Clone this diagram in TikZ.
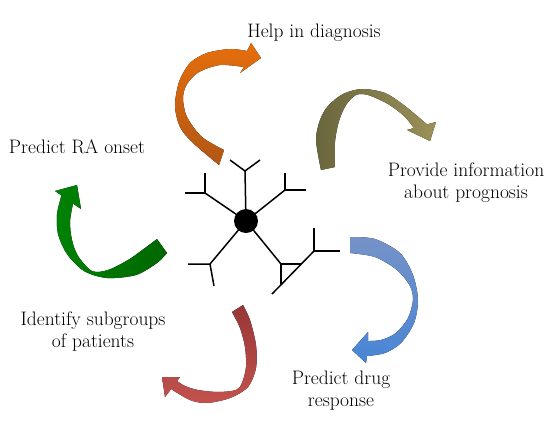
\documentclass[tikz,border=0pt]{standalone}
\begin{document}
\begin{tikzpicture}[x=1pt,y=-1pt,
  lbl/.style={font=\fontsize{19.5}{22}\selectfont, align=center, inner sep=0pt, text=black},
  arm/.style={line width=1.5pt, line cap=butt, line join=miter},
  core/.style={circle, fill=black, minimum size=24pt, inner sep=0pt}
]
\useasboundingbox (0,0) rectangle (557,421);
\definecolor{orA}{RGB}{229,110,12}
\definecolor{orB}{RGB}{178,86,20}
\definecolor{olA}{RGB}{106,102,60}
\definecolor{olB}{RGB}{155,145,88}
\definecolor{blA}{RGB}{118,146,200}
\definecolor{blB}{RGB}{72,134,214}
\definecolor{rdA}{RGB}{150,55,55}
\definecolor{rdB}{RGB}{196,82,78}
\definecolor{grA}{RGB}{0,130,5}
\definecolor{grB}{RGB}{0,102,0}

% labels
\node[lbl] (diag) at (314,33) {Help in diagnosis};
\node[lbl] (onset) at (77,147) {Predict RA onset};
\node[lbl] (prog) at (466,183) {Provide information\\about prognosis};
\node[lbl] (sub) at (93,332) {Identify subgroups\\of patients};
\node[lbl] (drug) at (341,391) {Predict drug\\response};

% orange arrow
\fill[top color=orA, bottom color=orB]
  (219,165) -- plot[smooth] coordinates {(219,165) (193,143) (180,127) (175,106) (179,82) (190,63) (207,53) (230,49) (247,51)}
  -- (251,43) -- (261,58) -- (240,73) -- (244,67)
  -- plot[smooth] coordinates {(244,67) (220,65) (199,72) (187,84) (183,98) (187,117) (202,137) (224,150)}
  -- cycle;

% olive arrow
\fill[left color=olA, right color=olB]
  (321,170) -- plot[smooth] coordinates {(321,170) (316,140) (320,120) (328,106) (343,94) (362,89) (385,93) (405,106) (427,124.4)}
  -- (436,122) -- (430,141) -- (407,130) -- (414,128)
  -- plot[smooth] coordinates {(414,128) (404,116) (388,104) (368,95) (356,95) (346,105) (339,121) (335,142) (335,167)}
  -- cycle;

% blue arrow
\fill[top color=blA, bottom color=blB]
  (350,237) -- plot[smooth] coordinates {(350,237) (375,239) (400,253) (413,275) (418,300) (414,323) (401,343) (385,353) (367,356)}
  -- (366,363) -- (352,350) -- (368,332) -- (368,341)
  -- plot[smooth] coordinates {(368,341) (381,340) (396,333) (408,318) (413,300) (410,286) (397,270) (375,257) (350,253)}
  -- cycle;

% red arrow
\fill[top color=rdA, bottom color=rdB]
  (243,305) -- plot[smooth] coordinates {(243,305) (250,320) (256,345) (256,368) (248,387) (230,398) (207,403) (190,400) (171,389)}
  -- (165,397) -- (162,377) -- (180,377) -- (177,381)
  -- plot[smooth] coordinates {(177,381) (185,386) (198,390) (218,392) (236,390) (242,383) (246,367) (245,347) (240,328) (232,312)}
  -- cycle;

% green arrow
\fill[left color=grA, right color=grB]
  (167,253) -- plot[smooth] coordinates {(167,253) (157,263) (136,275) (107,278) (84,271) (67,254) (58,234) (57,214) (61.5,195.5)}
  -- (55,191) -- (77,185) -- (81,209) -- (73,203.6)
  -- plot[smooth] coordinates {(73,203.6) (70,222) (72,240) (78,256) (92,271) (108,270) (128,260) (145,248) (157,239)}
  -- cycle;

% antibody
\node[core] (ab) at (246,221) {};
\coordinate (uA) at (245,171);
\coordinate (ulA) at (205,193);
\coordinate (urA) at (285,190);
\coordinate (llA) at (210,264);
\coordinate (lrA) at (281,264);
\coordinate (lrB) at (301,264);
\coordinate (lrC) at (281,284);
\coordinate (lrD) at (314,251);
\coordinate (lrE) at (272,294);
\draw[arm] (ab.center) -- (uA);
\draw[arm] (230,160) -- (uA) -- (260,160);
\draw[arm] (ab.center) -- (ulA);
\draw[arm] (205,173) -- (ulA) -- (185,193);
\draw[arm] (ab.center) -- (urA);
\draw[arm] (285,173) -- (urA) -- (306,190);
\draw[arm] (ab.center) -- (llA);
\draw[arm] (188,264) -- (llA) -- (214,286);
\draw[arm] (ab.center) -- (lrA);
\draw[arm] (lrB) -- (lrA) -- (lrC);
\draw[arm] (lrD) -- (lrE);
\draw[arm] (314,228) -- (lrD) -- (340,251);
\end{tikzpicture}
\end{document}
